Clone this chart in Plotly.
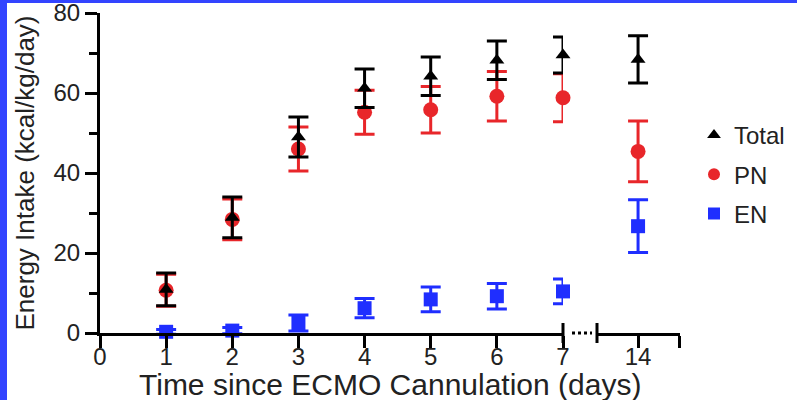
import plotly.graph_objects as go

# ---- data ----
days = [1, 2, 3, 4, 5, 6, 7]
late_day = [14]
total_mean = [10.9, 28.9, 49.0, 61.2, 64.2, 68.2, 69.5]
total_sd = [4.1, 5.1, 5.0, 4.8, 4.8, 4.8, 4.5]
total_late_mean = [68.4]
total_late_sd = [5.9]
pn_mean = [10.7, 28.4, 46.0, 55.2, 55.8, 59.2, 58.8]
pn_sd = [4.0, 5.1, 5.5, 5.5, 5.8, 6.2, 6.0]
pn_late_mean = [45.4]
pn_late_sd = [7.6]
en_mean = [0.3, 0.6, 2.5, 6.2, 8.4, 9.2, 10.4]
en_sd = [0.6, 0.8, 2.0, 2.4, 3.1, 3.2, 3.1]
en_late_mean = [26.7]
en_late_sd = [6.6]
x_ticks_main = [0, 1, 2, 3, 4, 5, 6, 7]
x_ticks_late = [14, 15]
x_ticktext_late = ["14", ""]

# ---- geometry helpers (pixels -> paper) ----
W, H = 797, 400
L, R, T, B = 100, 680, 13, 333


def px(x):
    return (x - L) / (R - L)


def py(y):
    return (B - y) / (B - T)


FONT = "Liberation Sans, Arial, sans-serif"
BLACK = "#000000"
RED = "#E8262A"
BLUE = "#1F2EFF"

series = [
    ("EN", en_mean, en_sd, en_late_mean, en_late_sd, BLUE, "square", 14, 3),
    ("PN", pn_mean, pn_sd, pn_late_mean, pn_late_sd, RED, "circle", 15, 2),
    ("Total", total_mean, total_sd, total_late_mean, total_late_sd, BLACK, "triangle-up", 13, 1),
]

fig = go.Figure()
for name, m, sd, lm, lsd, col, sym, sz, rank in series:
    fig.add_trace(go.Scatter(
        x=days, y=m, mode="markers", name=name, legendgroup=name, legendrank=rank,
        marker=dict(color=col, symbol=sym, size=sz, line=dict(width=0)),
        error_y=dict(type="data", array=sd, color=col, thickness=3, width=10),
        xaxis="x", yaxis="y", cliponaxis=False,
    ))
    fig.add_trace(go.Scatter(
        x=late_day, y=lm, mode="markers", name=name, legendgroup=name, showlegend=False,
        marker=dict(color=col, symbol=sym, size=sz, line=dict(width=0)),
        error_y=dict(type="data", array=lsd, color=col, thickness=3, width=10),
        xaxis="x2", yaxis="y", cliponaxis=False,
    ))

axis_common = dict(
    showline=True, linecolor=BLACK, linewidth=3, ticks="outside", ticklen=12,
    tickwidth=3, tickcolor=BLACK, showgrid=False, zeroline=False,
    ticklabeloverflow="allow",
    tickfont=dict(family=FONT, size=24, color="#222222"),
)

fig.update_layout(
    width=W, height=H,
    margin=dict(l=L, r=W - R, t=T, b=H - B, autoexpand=False),
    plot_bgcolor="white", paper_bgcolor="white",
    xaxis=dict(domain=[0, px(563)], range=[0, 7], tickvals=x_ticks_main,
               anchor="y", ticklabelstandoff=-12, **axis_common),
    xaxis2=dict(domain=[px(597), 1], range=[13.02, 15.001], tickvals=x_ticks_late,
                ticktext=x_ticktext_late, anchor="y", ticklabelstandoff=-12, **axis_common),
    yaxis=dict(range=[0, 80], tickvals=[0, 20, 40, 60, 80], anchor="x",
               minor=dict(tickvals=[10, 30, 50, 70], ticks="outside", ticklen=8,
                          tickwidth=3, tickcolor=BLACK),
               title=dict(text="Energy Intake (kcal/kg/day)", standoff=12,
                          font=dict(family=FONT, size=26, color="#222222")),
               **axis_common),
    showlegend=True,
    legend=dict(x=px(694), y=py(113), xanchor="left", yanchor="top",
                font=dict(family=FONT, size=24, color="#222222"),
                tracegroupgap=5, bgcolor="rgba(0,0,0,0)", itemsizing="constant"),
)

# x-axis title centred under whole plot
fig.add_annotation(text="Time since ECMO Cannulation (days)", xref="paper", yref="paper",
                   x=0.5, y=py(384), xanchor="center", yanchor="middle", showarrow=False,
                   font=dict(family=FONT, size=30, color="#222222"))

# axis break decorations
for bx in (563, 597):
    fig.add_shape(type="line", xref="paper", yref="paper", x0=px(bx), x1=px(bx),
                  y0=py(323), y1=py(343), line=dict(color=BLACK, width=3))
fig.add_shape(type="line", xref="paper", yref="paper", x0=px(572), x1=px(592),
              y0=py(333), y1=py(333), line=dict(color=BLACK, width=3, dash="dot"))

# blue frame edges
fig.add_shape(type="rect", xref="paper", yref="paper", x0=px(0), x1=px(7),
              y0=py(400), y1=py(0), line=dict(width=0), fillcolor="#3344FF", layer="below")
fig.add_shape(type="rect", xref="paper", yref="paper", x0=px(0), x1=px(797),
              y0=py(3), y1=py(0), line=dict(width=0), fillcolor="#3344FF", layer="below")

fig.write_html("out.html", config={"displayModeBar": False},
               post_script="document.body.style.margin='0px';document.body.style.overflow='hidden';")
